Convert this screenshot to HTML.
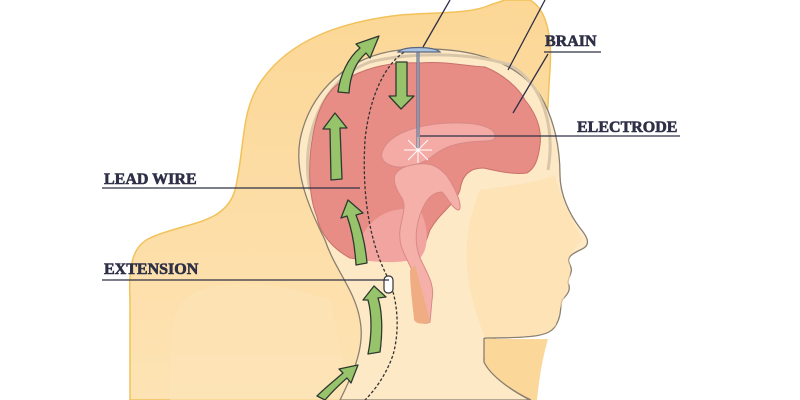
<!DOCTYPE html>
<html><head><meta charset="utf-8"><style>
html,body{margin:0;padding:0;background:#fff;width:800px;height:400px;overflow:hidden}
svg{display:block}
text{font-family:"Liberation Serif",serif;font-weight:bold;font-size:16px;fill:#2e3047;stroke:#2e3047;stroke-width:0.6}
</style></head><body>
<svg width="800" height="400" viewBox="0 0 800 400" xmlns="http://www.w3.org/2000/svg">
<defs>
<linearGradient id="hair" x1="0" y1="0" x2="0" y2="1">
<stop offset="0" stop-color="#fcd796"/><stop offset="1" stop-color="#fde3b4"/></linearGradient>
</defs>
<path d="M130,400 L130,300 C128,260 135,245 150,238 C185,222 225,225 235,190 C245,150 240,110 262,80 C290,40 340,22 400,15 C440,12 470,14 490,5 L505,0 L530,0 C548,10 552,40 550,70 C548,95 548,120 545,140 L480,400 Z" fill="url(#hair)" stroke="#f2c25a" stroke-width="1.5"/>
<path d="M170,400 C170,330 170,300 200,290 C250,275 300,290 330,300 L350,400 Z" fill="#fde4b8" opacity="0.6"/>
<path d="M340,400 C355,370 365,345 360,320 C355,290 335,270 325,240 C305,200 295,170 300,140 C310,90 350,55 400,50 C450,46 510,52 540,95 C555,120 560,150 560,175 C560,195 570,215 580,228 C590,240 590,246 580,250 C570,255 566,258 570,265 C574,272 568,276 568,283 C572,290 566,296 562,300 C560,305 562,315 556,325 C550,335 540,338 485,338 L484,360 C490,375 510,390 530,400 Z" fill="#fde9c6" stroke="#8b8070" stroke-width="1.3"/>
<path d="M484,339 L548,339 C542,360 539,380 537,400 L531,400 C510,390 490,375 484,362 Z" fill="#fcd79a"/>
<path d="M484,338 L484,362 C490,375 510,390 531,400" fill="none" stroke="#8b8070" stroke-width="1.3"/>
<path d="M310,190 C300,140 320,80 370,62 C410,52 470,52 510,65 C545,85 555,130 548,170" fill="none" stroke="#d9c6a8" stroke-width="3"/>
<path d="M480,190 C520,185 545,180 555,175 C560,200 578,230 582,240 C570,255 566,258 570,265 C572,290 560,300 556,325 C548,335 540,337 485,337 C470,300 455,250 480,190 Z" fill="#fcdfae" opacity="0.7"/>
<path d="M313,135 C318,105 330,85 350,77 C375,64 400,62 420,63 C445,61 465,66 485,67 C505,75 520,90 525,100 C537,115 542,130 540,145 C538,160 535,168 527,173 C510,175 495,170 483,168 C470,168 462,175 460,190 C455,205 440,212 430,230 L420,258 C400,262 375,262 350,258 C335,250 320,235 317,217 C308,195 308,160 313,135 Z" fill="#e88c86" stroke="#c8706a" stroke-width="1"/>
<path d="M360,240 C370,215 395,205 420,210 C430,230 428,250 420,258 C400,264 375,263 355,258 Z" fill="#f2a5a0"/>
<path d="M383,150 C390,133 420,124 450,123 C480,122 495,128 495,136 C495,143 485,140 470,142 C450,144 440,150 430,158 C420,165 400,170 390,165 C382,162 380,156 383,150 Z" fill="#f4aba6" stroke="#d88a86" stroke-width="1"/>
<path d="M395,175 C400,165 420,162 432,165 C445,170 450,180 455,190 C460,200 462,210 458,210 C452,208 448,198 442,192 C432,192 425,200 420,215 C415,230 415,245 420,258 C428,275 435,285 432,300 L430,322 C424,325 416,322 415,318 C413,300 412,285 412,270 C405,255 398,245 400,230 C402,215 408,205 400,195 C396,188 393,182 395,175 Z" fill="#f6b0aa" stroke="#d88a86" stroke-width="1"/>
<path d="M415,265 C420,285 425,300 430,322 C420,326 413,322 414,318 C412,300 410,285 410,270 Z" fill="#f0ac82"/>
<path d="M413,48 C390,55 370,90 365,140 C362,190 368,240 388,278 C398,300 400,330 393,355 C386,375 375,390 365,400" fill="none" stroke="#333" stroke-width="1.3" stroke-dasharray="3,2"/>
<rect x="384" y="276" width="9" height="17" rx="4" fill="#fff" stroke="#333" stroke-width="1.2"/>
<line x1="418" y1="50" x2="418" y2="150" stroke="#5b6680" stroke-width="3"/>
<line x1="418" y1="50" x2="418" y2="150" stroke="#b8c8e0" stroke-width="1"/>
<path d="M398,52 C402,46 435,46 440,52 Z" fill="#a9c4e0" stroke="#5b6680" stroke-width="1.2"/>
<g stroke="#fff" stroke-width="1"><line x1="404" y1="150" x2="432" y2="150"/><line x1="418" y1="137" x2="418" y2="163"/><line x1="408" y1="140" x2="428" y2="160"/><line x1="428" y1="140" x2="408" y2="160"/></g>
<g fill="#97c46a" stroke="#2e3a30" stroke-width="1.3" stroke-linejoin="round">
<path d="M338,92 C340,75 348,58 360,48 L356,44 L379,36 L370,58 L366,53 C356,62 350,76 349,93 Z"/>
<path d="M396,62 L407,62 L407,96 L414,96 L401,109 L389,96 L396,96 Z"/>
<path d="M331,180 L342,179 L340,128 L347,128 L335,113 L323,129 L330,129 Z"/>
<path d="M356,265 L367,263 C365,240 360,225 356,215 L363,213 L348,200 L341,218 L347,216 C352,230 355,248 356,265 Z"/>
<path d="M368,354 L380,352 C383,330 382,310 378,298 L386,297 L374,286 L363,300 L368,300 C372,315 372,335 368,354 Z"/>
<path d="M325,400 C332,392 340,384 347,378 L351,383 L358,365 L339,369 L343,373 C335,380 325,388 317,396 Z"/>
</g>
<g stroke="#2e3047" stroke-width="1.3" fill="none">
<line x1="423" y1="47" x2="450" y2="0"/>
<line x1="508" y1="70" x2="545" y2="0"/>
<line x1="513" y1="113" x2="548" y2="54"/>
<line x1="544" y1="52" x2="601" y2="52"/>
<line x1="420" y1="136" x2="680" y2="136"/>
<line x1="102" y1="188" x2="360" y2="188"/>
<line x1="102" y1="280" x2="389" y2="280"/>
</g>
<text x="545" y="46">BRAIN</text>
<text x="577" y="132">ELECTRODE</text>
<text x="104" y="184">LEAD WIRE</text>
<text x="104" y="274">EXTENSION</text>
</svg>
</body></html>
